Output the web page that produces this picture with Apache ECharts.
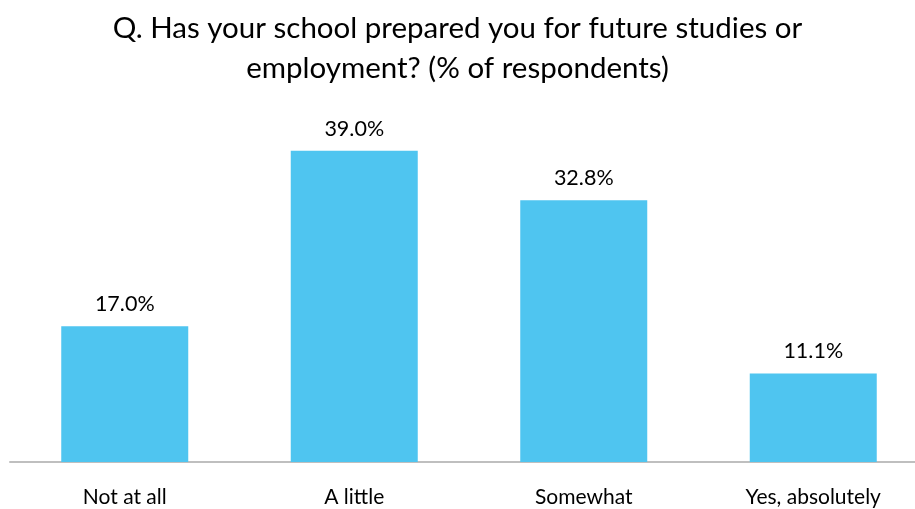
<!DOCTYPE html>
<html>
<head>
<meta charset="utf-8">
<style>
  html, body { margin: 0; padding: 0; background: #ffffff; }
  #chart { width: 915px; height: 509px; }
</style>
<script src="https://cdn.jsdelivr.net/npm/echarts@6/dist/echarts.min.js"></script>
</head>
<body>
<div id="chart"></div>
<script>
// Survey answers and their shares (% of respondents)
const categories = ['Not at all', 'A little', 'Somewhat', 'Yes, absolutely'];
const shares = [17.0, 39.0, 32.8, 11.1];
const titleText = 'Q. Has your school prepared you for future studies or\nemployment? (% of respondents)';

const chart = echarts.init(document.getElementById('chart'));
const font = 'Lato, "Open Sans", sans-serif';

chart.setOption({
  animation: false,
  title: {
    text: titleText,
    left: 'center',
    top: 3,
    textStyle: {
      fontFamily: font,
      fontSize: 29.5,
      fontWeight: 'normal',
      color: '#000000',
      lineHeight: 40
    }
  },
  // plot area runs a little past the right edge of the canvas
  grid: {
    left: 10, width: 918, top: 63, bottom: 47,
    containLabel: false,
    outerBoundsMode: 'none'
  },
  xAxis: {
    type: 'category',
    data: categories,
    axisLine: { show: true, lineStyle: { color: '#BFBFBF', width: 2 } },
    axisTick: { show: false },
    axisLabel: {
      fontFamily: font,
      fontSize: 21,
      color: '#000000',
      margin: 25
    }
  },
  yAxis: {
    type: 'value',
    min: 0,
    max: 50,
    show: false,
    splitLine: { show: false }
  },
  series: [{
    type: 'bar',
    data: shares,
    barWidth: 127,
    itemStyle: { color: '#4FC5F0' },
    label: {
      show: true,
      position: 'top',
      distance: 11,
      fontFamily: font,
      fontSize: 21.5,
      color: '#000000',
      formatter: p => p.value.toFixed(1) + '%'
    }
  }]
});
</script>
</body>
</html>
